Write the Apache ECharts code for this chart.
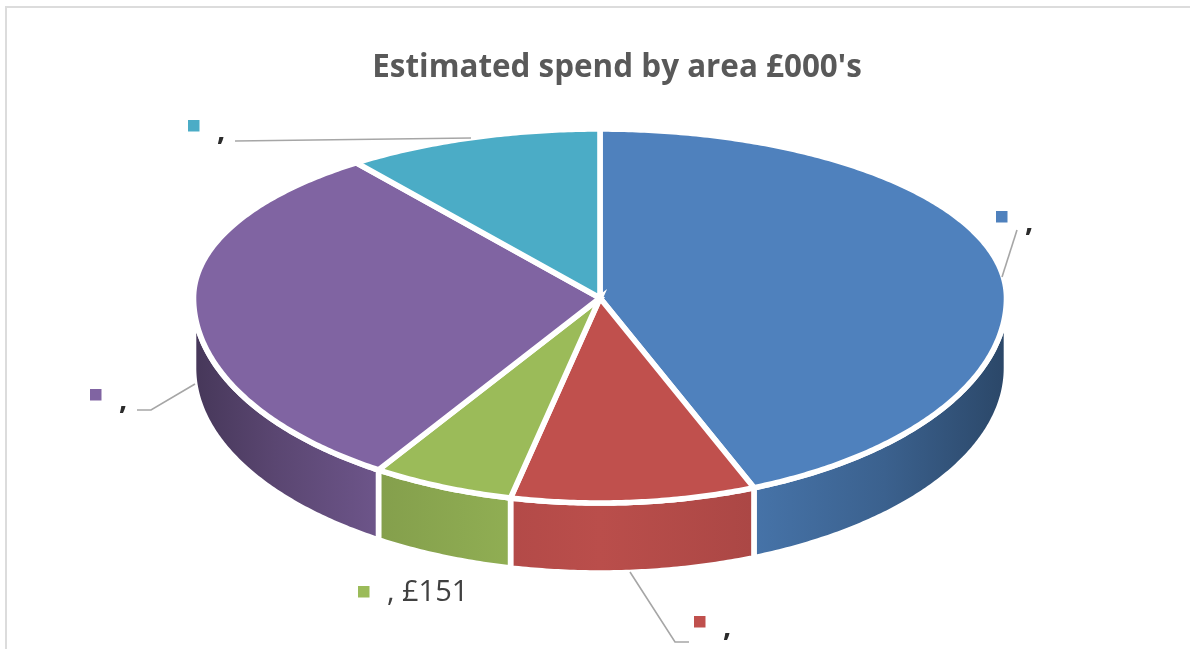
<!DOCTYPE html>
<html>
<head>
<meta charset="utf-8">
<style>html,body{margin:0;padding:0;background:#fff}#chart{width:1190px;height:649px}</style>
<script src="https://cdn.jsdelivr.net/npm/echarts@6/dist/echarts.min.js"></script>
</head>
<body>
<div id="chart"></div>
<script>
// Data
const chartTitle = "Estimated spend by area £000's";
const categories = ['', '', '', '', ''];
const spend = [1173, 260, 151, 819, 274];
const valueLabels = ['', '', '£151', '', ''];

// Styles and layout
const colors = ['#4f81bd', '#c0504d', '#9bbb59', '#8064a2', '#4bacc6'];
const disc = { cx: 600, cy: 298, rx: 406.5, ryBack: 169, ryFront: 205, depth: 70, gap: 5.6 };
const shadeStops = [[0, .55], [.1, .7], [.227, .85], [.39, .93], [.5, .97], [.69, .89], [.85, .75], [1, .55]];
const labelLayout = [
  { key: [996, 211], text: [1025, 208], line: [[1017, 230], [1002, 277]] },
  { key: [694, 616], text: [723, 613], line: [[630, 572], [675, 642], [689, 642]] },
  { key: [358, 586], text: [387, 578], line: null },
  { key: [90, 389], text: [119, 386], line: [[195, 384], [151, 410], [137, 410]] },
  { key: [188, 120], text: [217, 117], line: [[235, 141], [471, 138]] }
];

const total = spend.reduce((a, b) => a + b, 0);
const toAngle = v => v / total * 2 * Math.PI;
function startAngle(i) {
  let s = 0;
  for (let k = 0; k < i; k++) s += spend[k];
  return toAngle(s);
}
function rimPoint(a, dy) {
  const c = Math.cos(a);
  const ry = c > 0 ? disc.ryBack : disc.ryFront;
  return [disc.cx + disc.rx * Math.sin(a), disc.cy - ry * c + dy];
}
function arc(a0, a1, dy) {
  const n = Math.max(2, Math.ceil((a1 - a0) / 0.01));
  const pts = [];
  for (let k = 0; k <= n; k++) pts.push(rimPoint(a0 + (a1 - a0) * k / n, dy));
  return pts;
}
function shade(hex, f) {
  const n = parseInt(hex.slice(1), 16);
  const ch = s => Math.round(((n >> s) & 255) * f);
  return 'rgb(' + ch(16) + ',' + ch(8) + ',' + ch(0) + ')';
}
function sideFill(hex) {
  return new echarts.graphic.LinearGradient(
    disc.cx - disc.rx, 0, disc.cx + disc.rx, 0,
    shadeStops.map(s => ({ offset: s[0], color: shade(hex, s[1]) })), true);
}

function renderWall(params, api) {
  const i = params.dataIndex;
  const s = startAngle(i);
  const a0 = Math.max(s, Math.PI / 2);
  const a1 = Math.min(s + toAngle(api.value(0)), Math.PI * 1.5);
  if (a1 <= a0) return { type: 'group', children: [] };
  const pts = arc(a0, a1, 0).concat(arc(a0, a1, disc.depth).reverse());
  return {
    type: 'polygon',
    shape: { points: pts },
    style: { fill: sideFill(colors[i]), stroke: '#fff', lineWidth: disc.gap }
  };
}
function renderTop(params, api) {
  const i = params.dataIndex;
  const s = startAngle(i);
  const pts = [[disc.cx, disc.cy]].concat(arc(s, s + toAngle(api.value(0)), 0));
  return {
    type: 'polygon',
    shape: { points: pts },
    style: { fill: colors[i], stroke: '#fff', lineWidth: disc.gap, lineJoin: 'miter' }
  };
}
function renderLabel(params, api) {
  const i = params.dataIndex;
  const l = labelLayout[i];
  const hasValue = valueLabels[i] !== '';
  const kids = [
    { type: 'rect', shape: { x: l.key[0], y: l.key[1], width: 11.5, height: 11.5 }, style: { fill: colors[i] } },
    { type: 'text', style: {
        x: l.text[0], y: l.text[1],
        text: (categories[i] + ', ' + valueLabels[i]).trimEnd(),
        fill: hasValue ? '#404040' : '#2b2b2b',
        font: (hasValue ? '' : '700 ') + '29px "Open Sans", sans-serif',
        textAlign: 'left', textVerticalAlign: 'top'
      } }
  ];
  if (l.line) kids.unshift({
    type: 'polyline', shape: { points: l.line },
    style: { fill: 'none', stroke: '#a6a6a6', lineWidth: 1.6 }
  });
  return { type: 'group', children: kids };
}

const chart = echarts.init(document.getElementById('chart'), null, { renderer: 'canvas' });
chart.setOption({
  animation: false,
  backgroundColor: '#ffffff',
  title: {
    text: chartTitle, left: 612, top: 48, textAlign: 'center',
    textStyle: { fontFamily: '"Open Sans", sans-serif', fontWeight: 'bold', fontSize: 31.4, color: '#595959' }
  },
  graphic: [{
    type: 'rect', silent: true, z: -1,
    shape: { x: 6, y: 7, width: 1400, height: 900 },
    style: { fill: 'none', stroke: '#dcdcdc', lineWidth: 2 }
  }],
  series: [
    { type: 'custom', name: 'walls', coordinateSystem: 'none', silent: true, z: 2, renderItem: renderWall, data: spend },
    { type: 'custom', name: 'tops', coordinateSystem: 'none', silent: true, z: 3, renderItem: renderTop, data: spend },
    { type: 'custom', name: 'labels', coordinateSystem: 'none', silent: true, z: 4, renderItem: renderLabel, data: spend }
  ]
});
</script>
</body>
</html>
